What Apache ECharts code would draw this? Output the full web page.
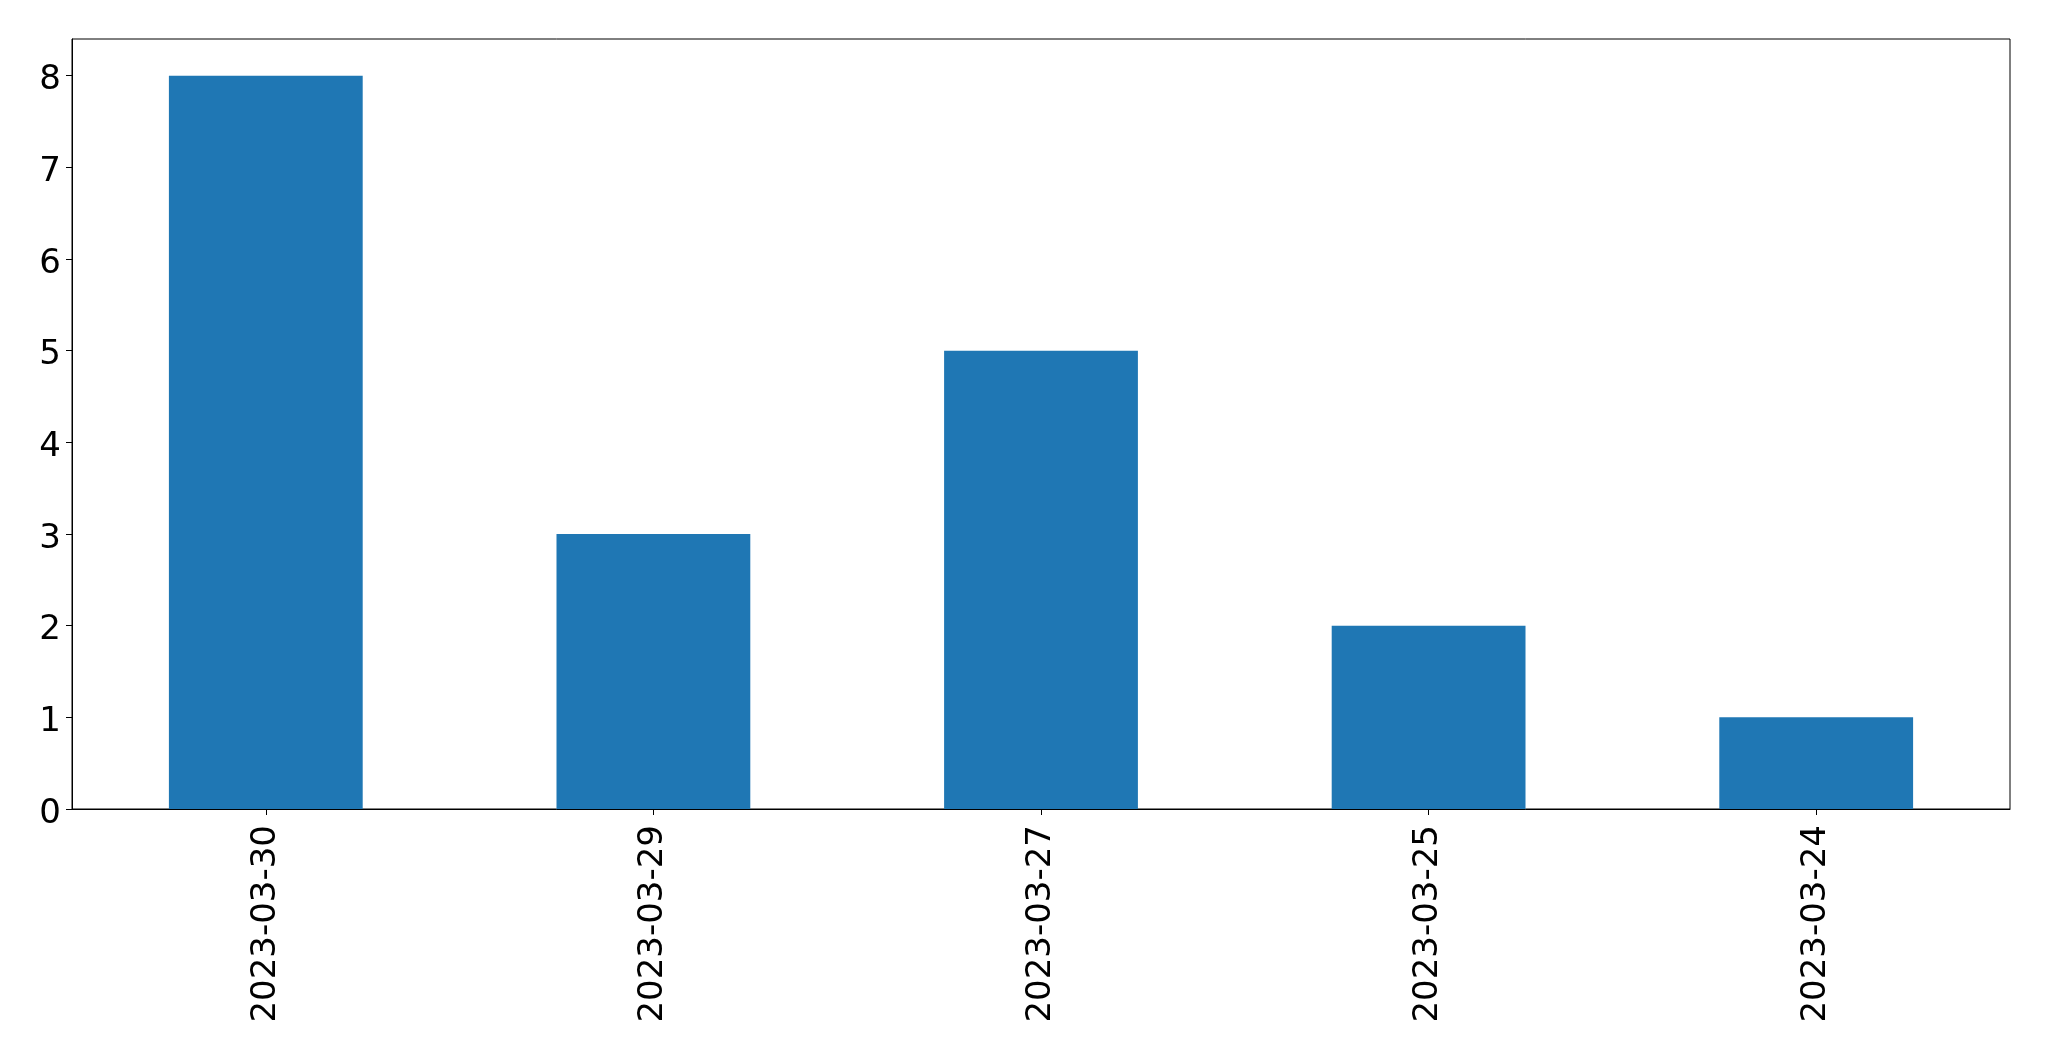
<!DOCTYPE html>
<html>
<head>
<meta charset="utf-8">
<script src="https://cdn.jsdelivr.net/npm/echarts@6/dist/echarts.min.js"></script>
<style>
html,body{margin:0;padding:0;background:#fff;}
#chart{width:2049px;height:1061px;}
</style>
</head>
<body>
<div id="chart"></div>
<script>
const categories = ['2023-03-30', '2023-03-29', '2023-03-27', '2023-03-25', '2023-03-24'];
const counts = [8, 3, 5, 2, 1];
const yTicks = [0, 1, 2, 3, 4, 5, 6, 7, 8];

const chart = echarts.init(document.getElementById('chart'), null, {renderer: 'canvas'});
chart.setOption({
  animation: false,
  backgroundColor: '#ffffff',
  grid: {
    left: 72, top: 39, width: 1938, height: 770,
    show: true, borderColor: '#000', borderWidth: 1, backgroundColor: 'transparent'
  },
  xAxis: {
    type: 'category',
    data: categories,
    axisLine: {show: true, lineStyle: {color: '#000', width: 1}},
    axisTick: {show: true, alignWithLabel: true, length: 6, lineStyle: {color: '#000', width: 1}},
    axisLabel: {
      rotate: 90, margin: 16, color: '#000',
      fontFamily: 'DejaVu Sans', fontSize: 34
    },
    splitLine: {show: false}
  },
  yAxis: {
    type: 'value',
    min: 0, max: 8.4, interval: 1,
    axisLine: {show: true, lineStyle: {color: '#000', width: 1}},
    axisTick: {show: true, length: 6, lineStyle: {color: '#000', width: 1}, customValues: yTicks},
    axisLabel: {
      margin: 11, color: '#000',
      fontFamily: 'DejaVu Sans', fontSize: 34,
      customValues: yTicks,
      formatter: function (v) { return '{a|' + v + '}'; },
      rich: {a: {fontFamily: 'DejaVu Sans', fontSize: 34, color: '#000', padding: [10, 0, 0, 0]}}
    },
    splitLine: {show: false}
  },
  series: [{
    type: 'bar',
    data: counts,
    barWidth: '50%',
    itemStyle: {color: '#1f77b4'}
  }]
});
</script>
</body>
</html>
